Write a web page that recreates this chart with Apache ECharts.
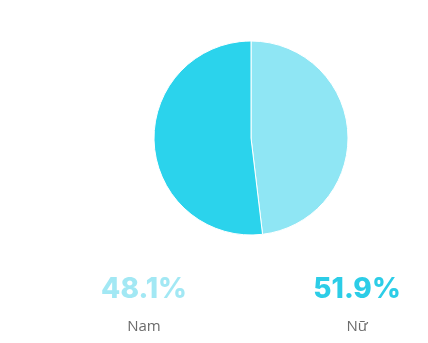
<!DOCTYPE html>
<html>
<head>
<meta charset="utf-8">
<script src="https://cdn.jsdelivr.net/npm/echarts@6/dist/echarts.min.js"></script>
<style>
	html, body { margin: 0; padding: 0; background: #fff; }
	#genderPie { width: 428px; height: 343px; }
</style>
</head>
<body>
<div id="genderPie"></div>
<script>
	var genders = ['Nam', 'Nữ'];
	var shares = [48.1, 51.9];
	var sliceColors = ['#8fe6f4', '#2bd3ec'];
	var labelColors = ['#a2e8f4', '#2ccde7'];

	var chart = echarts.init(document.getElementById('genderPie'));

	var labelX = [144, 357];
	var labels = [];
	genders.forEach(function (name, i) {
		labels.push({
			type: 'text',
			x: labelX[i],
			y: 276,
			style: {
				text: shares[i].toFixed(1) + '%',
				fill: labelColors[i],
				font: '800 28px Inter, Lato, sans-serif',
				textAlign: 'center'
			}
		});
		labels.push({
			type: 'text',
			x: labelX[i],
			y: 319,
			style: {
				text: name,
				fill: '#6b6b6b',
				font: '15px "Open Sans", sans-serif',
				textAlign: 'center'
			}
		});
	});

	chart.setOption({
		animation: false,
		series: [
			{
				name: 'Giới tính',
				type: 'pie',
				radius: 97,
				center: [251, 138],
				startAngle: 90,
				clockwise: true,
				label: { show: false },
				labelLine: { show: false },
				itemStyle: { borderColor: '#fff', borderWidth: 1 },
				data: genders.map(function (name, i) {
					return { name: name, value: shares[i], itemStyle: { color: sliceColors[i] } };
				})
			}
		],
		graphic: labels
	});
</script>
</body>
</html>
